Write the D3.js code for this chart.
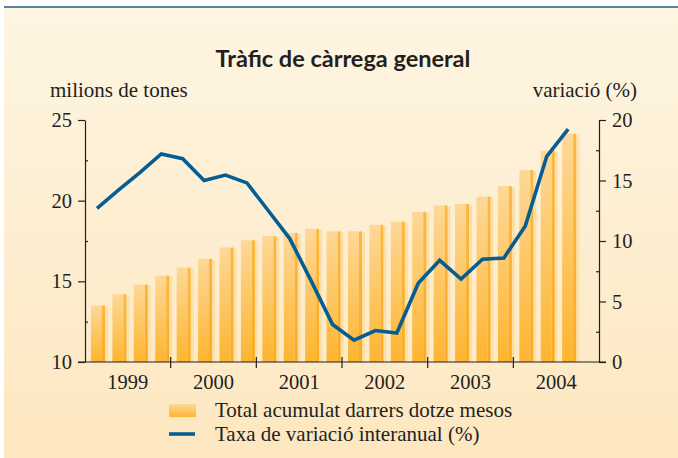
<!DOCTYPE html>
<html>
<head>
<meta charset="utf-8">
<script src="https://cdn.jsdelivr.net/npm/d3@7"></script>
<style>
  body { margin: 0; background: #fff; }
  text { fill: #231f20; font-family: "Liberation Serif", "Times New Roman", serif; }
  .title { font-family: Lato, "Open Sans", sans-serif; font-weight: bold; }
  .axis path, .axis line { stroke: #231f20; stroke-width: 1.2; }
</style>
</head>
<body>
<svg width="678" height="458"></svg>
<script>
// quarters shown on the axis (2004 Q4 has no data yet)
const periods = ['1999T1','1999T2','1999T3','1999T4','2000T1','2000T2','2000T3','2000T4',
  '2001T1','2001T2','2001T3','2001T4','2002T1','2002T2','2002T3','2002T4',
  '2003T1','2003T2','2003T3','2003T4','2004T1','2004T2','2004T3','2004T4'];
const years = ['1999', '2000', '2001', '2002', '2003', '2004'];

// millions of tonnes, accumulated last twelve months
const tonnes = [13.5, 14.2, 14.8, 15.35, 15.85, 16.4, 17.1, 17.55,
  17.8, 18.0, 18.25, 18.1, 18.1, 18.5, 18.7, 19.3,
  19.7, 19.8, 20.25, 20.9, 21.9, 23.1, 24.15];
// year-on-year variation (%)
const variation = [12.7, 14.2, 15.65, 17.2, 16.8, 15.0, 15.45, 14.8,
  12.5, 10.2, 6.7, 3.1, 1.8, 2.6, 2.4, 6.5,
  8.4, 6.85, 8.5, 8.6, 11.25, 17.0, 19.25];

const leftTicks = [10, 15, 20, 25];
const rightTicks = [0, 5, 10, 15, 20];

const svg = d3.select('svg');
const defs = svg.append('defs');

const bg = defs.append('linearGradient').attr('id', 'bg').attr('x1', 0).attr('y1', 0).attr('x2', 0).attr('y2', 1);
bg.append('stop').attr('offset', 0).attr('stop-color', '#fef5e2');
bg.append('stop').attr('offset', 1).attr('stop-color', '#fde7c0');

const barGrad = defs.append('linearGradient').attr('id', 'bar').attr('x1', 0).attr('y1', 0).attr('x2', 0).attr('y2', 1);
barGrad.append('stop').attr('offset', 0).attr('stop-color', '#fdd898');
barGrad.append('stop').attr('offset', 1).attr('stop-color', '#fdb530');

const edgeGrad = defs.append('linearGradient').attr('id', 'edge').attr('x1', 0).attr('y1', 0).attr('x2', 0).attr('y2', 1);
edgeGrad.append('stop').attr('offset', 0).attr('stop-color', '#fcb840');
edgeGrad.append('stop').attr('offset', 1).attr('stop-color', '#fbab22');

// background + top rule
svg.append('rect').attr('x', 4).attr('y', 7).attr('width', 674).attr('height', 451).attr('fill', 'url(#bg)');
svg.append('line').attr('x1', 4).attr('x2', 678).attr('y1', 7).attr('y2', 7)
  .attr('stroke', '#1d5c8e').attr('stroke-width', 1.3);

svg.append('text').attr('class', 'title').attr('x', 343).attr('y', 67)
  .attr('text-anchor', 'middle').style('font-size', '23.5px').text('Tràfic de càrrega general');

svg.append('text').attr('x', 50).attr('y', 97).style('font-size', '21px').text('milions de tones');
svg.append('text').attr('x', 637).attr('y', 97).attr('text-anchor', 'end').style('font-size', '21px').text('variació (%)');

const plotL = 85, plotR = 599, plotT = 120, plotB = 362;

const x = d3.scaleBand().domain(periods).range([plotL, plotR]);
const xYear = d3.scaleBand().domain(years).range([plotL, plotR]);
const yL = d3.scaleLinear().domain([10, 25]).range([plotB, plotT]);
const yR = d3.scaleLinear().domain([0, 20]).range([plotB, plotT]);

// bars: main body, darker right edge, pale shadow
const bars = svg.append('g').attr('class', 'bars').selectAll('g')
  .data(tonnes).enter().append('g');
bars.append('rect')
  .attr('x', (d, i) => x(periods[i]) + 20)
  .attr('y', d => yL(d) + 1)
  .attr('width', 3)
  .attr('height', d => plotB - yL(d) - 1)
  .attr('fill', '#fde0a8');
bars.append('rect')
  .attr('x', (d, i) => x(periods[i]) + 6)
  .attr('y', d => yL(d))
  .attr('width', 11)
  .attr('height', d => plotB - yL(d))
  .attr('fill', 'url(#bar)');
bars.append('rect')
  .attr('x', (d, i) => x(periods[i]) + 17)
  .attr('y', d => yL(d))
  .attr('width', 3)
  .attr('height', d => plotB - yL(d))
  .attr('fill', 'url(#edge)');

// left axis
svg.append('g').attr('class', 'axis').attr('transform', `translate(${plotL},0)`)
  .call(d3.axisLeft(yL).tickValues(leftTicks).tickSize(7).tickSizeOuter(0).tickPadding(6))
  .call(g => g.selectAll('text').style('font-size', '20.5px').attr('fill', '#231f20'));
svg.append('g').attr('class', 'axis').attr('transform', `translate(${plotL},0)`)
  .call(d3.axisRight(yL).tickValues([12.5, 17.5, 22.5]).tickSize(3).tickSizeOuter(0).tickFormat(''))
  .call(g => g.select('.domain').remove());

// right axis
svg.append('g').attr('class', 'axis').attr('transform', `translate(${plotR},0)`)
  .call(d3.axisRight(yR).tickValues(rightTicks).tickSize(7).tickSizeOuter(0).tickPadding(6))
  .call(g => g.selectAll('text').style('font-size', '20.5px').attr('fill', '#231f20'));
svg.append('g').attr('class', 'axis').attr('transform', `translate(${plotR},0)`)
  .call(d3.axisLeft(yR).tickValues([2.5, 7.5, 12.5, 17.5]).tickSize(3).tickSizeOuter(0).tickFormat(''))
  .call(g => g.select('.domain').remove());

// bottom axis: year labels and boundary ticks
svg.append('line').attr('x1', plotL - 7).attr('x2', plotR + 7).attr('y1', plotB).attr('y2', plotB)
  .attr('stroke', '#231f20').attr('stroke-width', 1.2);
const xAxis = svg.append('g').attr('class', 'axis').attr('transform', `translate(0,${plotB})`)
  .call(d3.axisBottom(xYear).tickSize(0).tickPadding(12))
  .call(g => g.select('.domain').remove())
  .call(g => g.selectAll('text').style('font-size', '20.5px').attr('fill', '#231f20'));
xAxis.selectAll('.bound').data(years.slice(1)).enter().append('line')
  .attr('class', 'bound')
  .attr('x1', d => xYear(d)).attr('x2', d => xYear(d))
  .attr('y1', -5).attr('y2', 6);

// variation line
const line = d3.line()
  .x((d, i) => x(periods[i]) + 12)
  .y(d => yR(d));
svg.append('path').datum(variation)
  .attr('d', line)
  .attr('fill', 'none')
  .attr('stroke', '#065d92')
  .attr('stroke-width', 3.6)
  .attr('stroke-linejoin', 'miter');

// legend
svg.append('rect').attr('x', 169).attr('y', 404).attr('width', 27).attr('height', 13).attr('fill', 'url(#bar)');
svg.append('text').attr('x', 215).attr('y', 417).style('font-size', '21px').text('Total acumulat darrers dotze mesos');
svg.append('line').attr('x1', 169).attr('x2', 195).attr('y1', 434).attr('y2', 434)
  .attr('stroke', '#065d92').attr('stroke-width', 3.6);
svg.append('text').attr('x', 215).attr('y', 441).style('font-size', '21px').text('Taxa de variació interanual (%)');
</script>
</body>
</html>
